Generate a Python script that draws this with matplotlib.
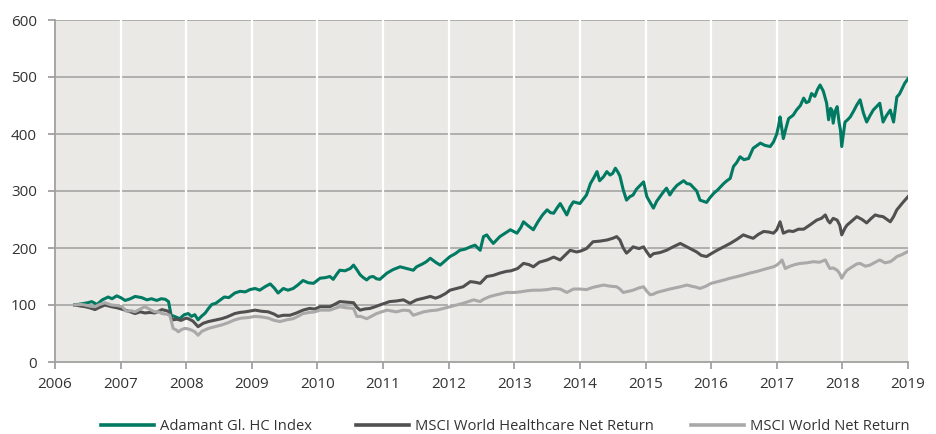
import matplotlib
matplotlib.use("Agg")
import matplotlib.pyplot as plt

plt.rcParams['font.family'] = ['Open Sans', 'DejaVu Sans']

# ---- data (decimal year, index value) ----
adamant = [
    (2006.30, 100), (2006.40, 102), (2006.50, 104), (2006.56, 106), (2006.64, 101), (2006.72, 109),
    (2006.81, 114), (2006.87, 111), (2006.94, 116), (2007.00, 113), (2007.07, 108), (2007.15, 111),
    (2007.22, 115), (2007.32, 113), (2007.40, 109), (2007.47, 111), (2007.55, 108), (2007.62, 111),
    (2007.68, 110), (2007.73, 106), (2007.77, 82), (2007.82, 80), (2007.90, 76), (2007.97, 83),
    (2008.03, 85), (2008.08, 80), (2008.13, 83), (2008.18, 74), (2008.23, 80), (2008.29, 86),
    (2008.34, 94), (2008.39, 101), (2008.45, 103), (2008.52, 109), (2008.58, 114), (2008.65, 113),
    (2008.74, 121), (2008.82, 124), (2008.90, 123), (2008.97, 127), (2009.05, 129), (2009.12, 126),
    (2009.20, 132), (2009.28, 137), (2009.34, 130), (2009.40, 121), (2009.48, 129), (2009.55, 126),
    (2009.63, 129), (2009.70, 135), (2009.78, 143), (2009.86, 139), (2009.94, 138), (2010.04, 147),
    (2010.12, 148), (2010.19, 150), (2010.24, 145), (2010.30, 155), (2010.34, 161), (2010.42, 160),
    (2010.50, 164), (2010.55, 170), (2010.60, 162), (2010.65, 153), (2010.70, 148), (2010.75, 144),
    (2010.80, 149), (2010.85, 150), (2010.90, 146), (2010.95, 145), (2011.06, 156), (2011.15, 162),
    (2011.26, 167), (2011.36, 164), (2011.46, 161), (2011.51, 167), (2011.60, 172), (2011.66, 176),
    (2011.72, 182), (2011.80, 175), (2011.87, 170), (2011.95, 178), (2012.02, 185), (2012.10, 190),
    (2012.17, 196), (2012.25, 198), (2012.33, 202), (2012.40, 205), (2012.48, 196), (2012.53, 220),
    (2012.58, 223), (2012.63, 215), (2012.68, 208), (2012.73, 214), (2012.78, 220), (2012.86, 226),
    (2012.94, 232), (2013.04, 226), (2013.10, 236), (2013.14, 246), (2013.20, 240), (2013.29, 232),
    (2013.36, 246), (2013.43, 258), (2013.50, 267), (2013.55, 262), (2013.60, 261), (2013.65, 270),
    (2013.70, 278), (2013.75, 268), (2013.80, 258), (2013.85, 272), (2013.90, 281), (2014.00, 278),
    (2014.10, 293), (2014.16, 313), (2014.22, 325), (2014.26, 334), (2014.30, 318), (2014.36, 325),
    (2014.41, 334), (2014.46, 328), (2014.50, 331), (2014.54, 340), (2014.58, 333), (2014.61, 326),
    (2014.66, 302), (2014.71, 284), (2014.76, 290), (2014.81, 293), (2014.86, 303), (2014.92, 310),
    (2014.97, 316), (2015.02, 290), (2015.07, 280), (2015.12, 270), (2015.17, 282), (2015.22, 290),
    (2015.27, 298), (2015.32, 305), (2015.37, 293), (2015.42, 302), (2015.48, 310), (2015.53, 314),
    (2015.58, 318), (2015.63, 313), (2015.68, 312), (2015.73, 306), (2015.78, 300), (2015.83, 284),
    (2015.88, 282), (2015.93, 280), (2015.98, 288), (2016.04, 296), (2016.10, 302), (2016.19, 313),
    (2016.24, 318), (2016.29, 322), (2016.34, 343), (2016.39, 350), (2016.44, 360), (2016.50, 355),
    (2016.57, 357), (2016.64, 375), (2016.70, 380), (2016.75, 384), (2016.82, 380), (2016.90, 378),
    (2016.95, 386), (2017.00, 400), (2017.03, 416), (2017.05, 430), (2017.10, 392), (2017.14, 410),
    (2017.18, 427), (2017.25, 433), (2017.30, 442), (2017.36, 450), (2017.41, 463), (2017.45, 455),
    (2017.49, 457), (2017.53, 471), (2017.58, 466), (2017.62, 478), (2017.66, 486), (2017.71, 475),
    (2017.76, 454), (2017.79, 425), (2017.82, 445), (2017.84, 442), (2017.86, 419), (2017.89, 440),
    (2017.92, 448), (2017.95, 420), (2017.97, 407), (2017.99, 378), (2018.04, 421), (2018.08, 425),
    (2018.12, 430), (2018.17, 440), (2018.22, 451), (2018.27, 460), (2018.32, 437), (2018.37, 421),
    (2018.42, 432), (2018.47, 442), (2018.52, 448), (2018.57, 454), (2018.62, 421), (2018.67, 432),
    (2018.73, 442), (2018.78, 421), (2018.83, 465), (2018.87, 470), (2018.90, 477), (2018.95, 489),
    (2019.00, 497),
]

msci_hc = [
    (2006.30, 100), (2006.40, 98), (2006.46, 97), (2006.53, 95), (2006.61, 92), (2006.68, 96),
    (2006.76, 100), (2006.86, 97), (2006.95, 95), (2007.07, 91), (2007.15, 88), (2007.22, 85),
    (2007.30, 88), (2007.37, 86), (2007.45, 87), (2007.52, 86), (2007.58, 89), (2007.63, 92),
    (2007.70, 90), (2007.73, 89), (2007.77, 78), (2007.80, 74), (2007.86, 75), (2007.92, 73),
    (2008.00, 77), (2008.03, 76), (2008.10, 72), (2008.18, 62), (2008.26, 68), (2008.34, 71),
    (2008.42, 73), (2008.54, 76), (2008.62, 79), (2008.74, 85), (2008.82, 87), (2008.90, 88),
    (2009.00, 90), (2009.05, 91), (2009.15, 89), (2009.25, 88), (2009.34, 84), (2009.40, 80),
    (2009.48, 82), (2009.58, 82), (2009.68, 86), (2009.78, 91), (2009.88, 94), (2009.96, 93),
    (2010.04, 97), (2010.19, 97), (2010.26, 101), (2010.34, 106), (2010.45, 105), (2010.55, 104),
    (2010.60, 96), (2010.65, 91), (2010.72, 93), (2010.80, 94), (2010.88, 97), (2010.95, 100),
    (2011.10, 106), (2011.20, 107), (2011.31, 109), (2011.41, 103), (2011.51, 109), (2011.62, 112),
    (2011.72, 115), (2011.80, 112), (2011.87, 115), (2011.95, 120), (2012.02, 126), (2012.12, 129),
    (2012.22, 132), (2012.33, 141), (2012.40, 140), (2012.48, 138), (2012.58, 150), (2012.68, 152),
    (2012.78, 156), (2012.88, 159), (2012.95, 160), (2013.05, 164), (2013.14, 173), (2013.22, 171),
    (2013.29, 167), (2013.38, 175), (2013.50, 179), (2013.60, 184), (2013.70, 179), (2013.78, 188),
    (2013.85, 196), (2013.95, 193), (2014.02, 195), (2014.10, 199), (2014.20, 211), (2014.30, 212),
    (2014.41, 214), (2014.50, 217), (2014.56, 220), (2014.61, 214), (2014.66, 200), (2014.71, 191),
    (2014.76, 196), (2014.81, 202), (2014.90, 199), (2014.97, 202), (2015.02, 193), (2015.07, 185),
    (2015.12, 190), (2015.22, 192), (2015.32, 196), (2015.42, 202), (2015.53, 208), (2015.58, 205),
    (2015.63, 202), (2015.70, 198), (2015.78, 193), (2015.85, 187), (2015.93, 185), (2016.00, 190),
    (2016.09, 196), (2016.19, 202), (2016.29, 208), (2016.39, 215), (2016.49, 223), (2016.56, 220),
    (2016.64, 217), (2016.72, 224), (2016.80, 229), (2016.88, 228), (2016.95, 226), (2017.00, 232),
    (2017.05, 246), (2017.10, 226), (2017.18, 230), (2017.25, 229), (2017.33, 233), (2017.41, 233),
    (2017.50, 240), (2017.61, 249), (2017.68, 252), (2017.74, 258), (2017.78, 248), (2017.81, 244),
    (2017.86, 252), (2017.92, 249), (2017.96, 240), (2017.99, 223), (2018.04, 235), (2018.07, 240),
    (2018.15, 248), (2018.22, 255), (2018.30, 250), (2018.37, 244), (2018.44, 252), (2018.50, 258),
    (2018.56, 256), (2018.62, 255), (2018.68, 250), (2018.73, 246), (2018.78, 255), (2018.83, 267),
    (2018.88, 274), (2018.93, 281), (2019.00, 290),
]

msci_world = [
    (2006.30, 100), (2006.40, 101), (2006.46, 100), (2006.53, 98), (2006.61, 97), (2006.68, 101),
    (2006.76, 104), (2006.86, 100), (2006.95, 99), (2007.02, 97), (2007.09, 89), (2007.16, 90),
    (2007.22, 88), (2007.30, 93), (2007.37, 97), (2007.45, 92), (2007.52, 88), (2007.58, 88),
    (2007.63, 85), (2007.70, 84), (2007.75, 82), (2007.78, 68), (2007.80, 59), (2007.85, 56),
    (2007.88, 53), (2007.93, 57), (2007.98, 59), (2008.03, 58), (2008.08, 56), (2008.13, 53),
    (2008.18, 47), (2008.24, 54), (2008.34, 59), (2008.44, 62), (2008.54, 65), (2008.64, 69),
    (2008.74, 74), (2008.84, 77), (2008.95, 78), (2009.05, 80), (2009.15, 79), (2009.25, 77),
    (2009.34, 73), (2009.43, 71), (2009.53, 74), (2009.63, 76), (2009.70, 80), (2009.78, 85),
    (2009.88, 87), (2009.96, 88), (2010.04, 91), (2010.19, 91), (2010.26, 94), (2010.34, 97),
    (2010.45, 95), (2010.55, 94), (2010.60, 80), (2010.66, 80), (2010.75, 76), (2010.82, 80),
    (2010.90, 85), (2011.06, 91), (2011.20, 88), (2011.31, 91), (2011.40, 90), (2011.46, 82),
    (2011.54, 85), (2011.62, 88), (2011.72, 90), (2011.82, 91), (2011.92, 94), (2012.02, 97),
    (2012.12, 100), (2012.22, 103), (2012.30, 106), (2012.38, 109), (2012.48, 106), (2012.53, 110),
    (2012.63, 115), (2012.73, 118), (2012.88, 122), (2013.00, 122), (2013.09, 123), (2013.20, 125),
    (2013.29, 126), (2013.40, 126), (2013.50, 127), (2013.60, 129), (2013.70, 128), (2013.80, 122),
    (2013.90, 128), (2014.00, 128), (2014.10, 127), (2014.20, 131), (2014.36, 135), (2014.46, 133),
    (2014.56, 132), (2014.61, 128), (2014.66, 122), (2014.74, 124), (2014.81, 126), (2014.90, 130),
    (2014.97, 132), (2015.02, 124), (2015.07, 118), (2015.12, 119), (2015.17, 122), (2015.27, 125),
    (2015.37, 128), (2015.45, 130), (2015.53, 132), (2015.63, 135), (2015.70, 133), (2015.78, 131),
    (2015.83, 129), (2015.92, 133), (2016.00, 138), (2016.10, 141), (2016.20, 144), (2016.29, 147),
    (2016.40, 150), (2016.50, 153), (2016.59, 156), (2016.70, 159), (2016.85, 164), (2016.95, 167),
    (2017.00, 170), (2017.05, 175), (2017.08, 179), (2017.13, 164), (2017.20, 168), (2017.28, 171),
    (2017.36, 173), (2017.46, 174), (2017.56, 176), (2017.65, 175), (2017.74, 179), (2017.78, 170),
    (2017.81, 164), (2017.86, 165), (2017.92, 161), (2017.96, 155), (2017.99, 147), (2018.03, 155),
    (2018.07, 161), (2018.15, 167), (2018.22, 172), (2018.27, 173), (2018.35, 168), (2018.42, 170),
    (2018.50, 175), (2018.57, 179), (2018.65, 174), (2018.73, 176), (2018.78, 180), (2018.83, 185),
    (2018.90, 188), (2018.95, 191), (2019.00, 194),
]

series_names = ["Adamant Gl. HC Index", "MSCI World Healthcare Net Return", "MSCI World Net Return"]
series_data = [adamant, msci_hc, msci_world]
series_colors = ["#007a62", "#505050", "#a9a9a9"]

years = list(range(2006, 2020))
y_ticks = [0, 100, 200, 300, 400, 500, 600]

# ---- figure ----
W, H = 937, 434
fig = plt.figure(figsize=(W / 100, H / 100), dpi=100)
ax = fig.add_axes([55 / W, 1 - 362 / H, (908 - 55) / W, (362 - 20) / H])
ax.set_facecolor("#ebe9e5")

lines = []
for name, data, col in zip(series_names, series_data, series_colors):
    xs = [d[0] for d in data]
    ys = [d[1] for d in data]
    ln, = ax.plot(xs, ys, color=col, lw=2.2, label=name, solid_joinstyle="round", zorder=3)
    lines.append(ln)

ax.set_xlim(years[0], years[-1])
ax.set_ylim(y_ticks[0], y_ticks[-1])
ax.set_xticks(years)
ax.set_xticklabels([str(y) for y in years])
ax.set_yticks(y_ticks)

# grids
for yv in y_ticks[1:]:
    ax.axhline(yv, color="#aaaaaa", lw=1.3, zorder=1)
for xv in years[1:-1]:
    ax.axvline(xv, color="white", lw=1.6, zorder=1)

for s in ["top", "right"]:
    ax.spines[s].set_visible(False)
for s in ["left", "bottom"]:
    ax.spines[s].set_color("#a0a0a0")
    ax.spines[s].set_linewidth(1.3)

ax.tick_params(axis="both", colors="#a0a0a0", labelcolor="#333333", labelsize=11,
               length=5, width=1.3)
ax.tick_params(axis="x", pad=6)
ax.tick_params(axis="y", pad=8)

# legend: three single-entry legends placed at the reference positions
legend_x = [101, 356, 691]
fs = 10.6
for ln, name, lx in zip(lines, series_names, legend_x):
    leg = fig.legend([ln], [name], loc="center left", frameon=False,
                     bbox_to_anchor=(lx / W, 1 - 427 / H), borderpad=0, borderaxespad=0,
                     fontsize=fs, handlelength=3.6, handletextpad=0.42,
                     labelcolor="#333333")
    for l in leg.get_lines():
        l.set_linewidth(2.6)

fig.savefig("out.png", dpi=100)
